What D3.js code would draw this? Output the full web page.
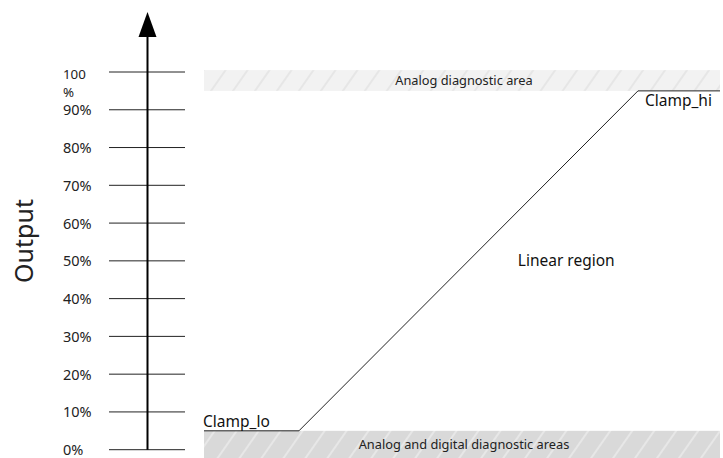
<!DOCTYPE html>
<html>
<head>
<meta charset="utf-8">
<script src="https://cdn.jsdelivr.net/npm/d3@7"></script>
<style>
  body { margin: 0; background: #fff; }
  svg { display: block; font-family: "Noto Sans", "Open Sans", sans-serif; }
</style>
</head>
<body>
<svg id="chart"></svg>
<script>
const width = 723, height = 458;

// tick values on the output axis (percent)
const ticks = [0, 10, 20, 30, 40, 50, 60, 70, 80, 90, 100];
const tickLabels = ["0%", "10%", "20%", "30%", "40%", "50%", "60%", "70%", "80%", "90%", "100 %"];

// transfer curve: input (0..100) -> output (%)
const curveInput = [0, 18.4, 84.1, 100];
const curveOutput = [5, 5, 95, 95];

// diagnostic bands [low, high] in output %
const bands = [
  { name: "Analog diagnostic area", lo: 95, hi: 100.5, cls: "top" },
  { name: "Analog and digital diagnostic areas", lo: -2.3, hi: 5, cls: "bottom" }
];

const notes = [
  { text: "Clamp_lo", x: 0, y: 5, dy: -4, anchor: "start", dx: -1 },
  { text: "Clamp_hi", x: 84.1, y: 95, dy: 15, anchor: "start", dx: 7 },
  { text: "Linear region", x: 70.2, y: 50, dy: 5, anchor: "middle", dx: 0 }
];

let svg = d3.select("#chart")
  .attr("width", width)
  .attr("height", height);

const y = d3.scaleLinear().domain([0, 100]).range([449.7, 72]);
const x = d3.scaleLinear().domain([0, 100]).range([204, 720]);
const axisX = 147.5;

const defs = svg.append("defs");
function hatch(id, bg, fg) {
  const p = defs.append("pattern")
    .attr("id", id)
    .attr("patternUnits", "userSpaceOnUse")
    .attr("width", 18).attr("height", 18)
    .attr("patternTransform", "rotate(35)");
  p.append("rect").attr("width", 18).attr("height", 18).attr("fill", bg);
  p.append("line").attr("x1", 9).attr("y1", 0).attr("x2", 9).attr("y2", 18)
    .attr("stroke", fg).attr("stroke-width", 1.5);
}
hatch("hatchTop", "#f2f2f2", "#e2e2e2");
hatch("hatchBottom", "#d9d9d9", "#ececec");

// bands
svg.append("g").selectAll("rect")
  .data(bands)
  .join("rect")
  .attr("x", x(0))
  .attr("width", x(100) - x(0))
  .attr("y", d => y(d.hi))
  .attr("height", d => y(d.lo) - y(d.hi))
  .attr("fill", d => d.cls == "top" ? "url(#hatchTop)" : "url(#hatchBottom)");

svg.append("g").selectAll("text")
  .data(bands)
  .join("text")
  .attr("x", (x(0) + x(100)) / 2 + 2)
  .attr("y", d => (y(d.lo) + y(d.hi)) / 2 + 4.5)
  .attr("text-anchor", "middle")
  .attr("font-size", 12.8)
  .attr("fill", "#222")
  .text(d => d.name);

// tick lines
svg.append("g").selectAll("line")
  .data(ticks)
  .join("line")
  .attr("x1", 109).attr("x2", 185)
  .attr("y1", d => y(d)).attr("y2", d => y(d))
  .attr("stroke", "#222").attr("stroke-width", 1);

// tick labels; "100 %" wraps onto two lines
svg.append("g").selectAll("text")
  .data(ticks.slice(0, -1))
  .join("text")
  .attr("x", 63)
  .attr("y", d => y(d) + 5.5)
  .attr("font-size", 14.5)
  .attr("fill", "#222")
  .text((d, i) => tickLabels[i]);

const wrapped = tickLabels[tickLabels.length - 1].split(" ");
svg.append("g").selectAll("text")
  .data(wrapped)
  .join("text")
  .attr("x", 63)
  .attr("y", (s, j) => y(100) + 7 + j * 18)
  .attr("font-size", 13.3)
  .attr("fill", "#222")
  .text(s => s);

// vertical axis with arrow
svg.append("line")
  .attr("x1", axisX).attr("x2", axisX)
  .attr("y1", 36).attr("y2", y(0))
  .attr("stroke", "#000").attr("stroke-width", 2);
svg.append("path")
  .attr("d", d3.line()([[axisX, 12], [axisX + 9, 37], [axisX - 9, 37]]) + "Z")
  .attr("fill", "#000");

svg.append("text")
  .attr("transform", "translate(33,241) rotate(-90)")
  .attr("text-anchor", "middle")
  .attr("font-size", 25)
  .attr("fill", "#222")
  .text("Output");

// transfer curve
const pts = curveInput.map((v, i) => [x(v), y(curveOutput[i])]);
svg.append("path")
  .attr("d", d3.line()(pts))
  .attr("fill", "none")
  .attr("stroke", "#222")
  .attr("stroke-width", 1);

svg.append("g").selectAll("text")
  .data(notes)
  .join("text")
  .attr("x", d => x(d.x) + d.dx)
  .attr("y", d => y(d.y) + d.dy)
  .attr("text-anchor", d => d.anchor)
  .attr("font-size", 15.5)
  .attr("fill", "#111")
  .text(d => d.text);
</script>
</body>
</html>
